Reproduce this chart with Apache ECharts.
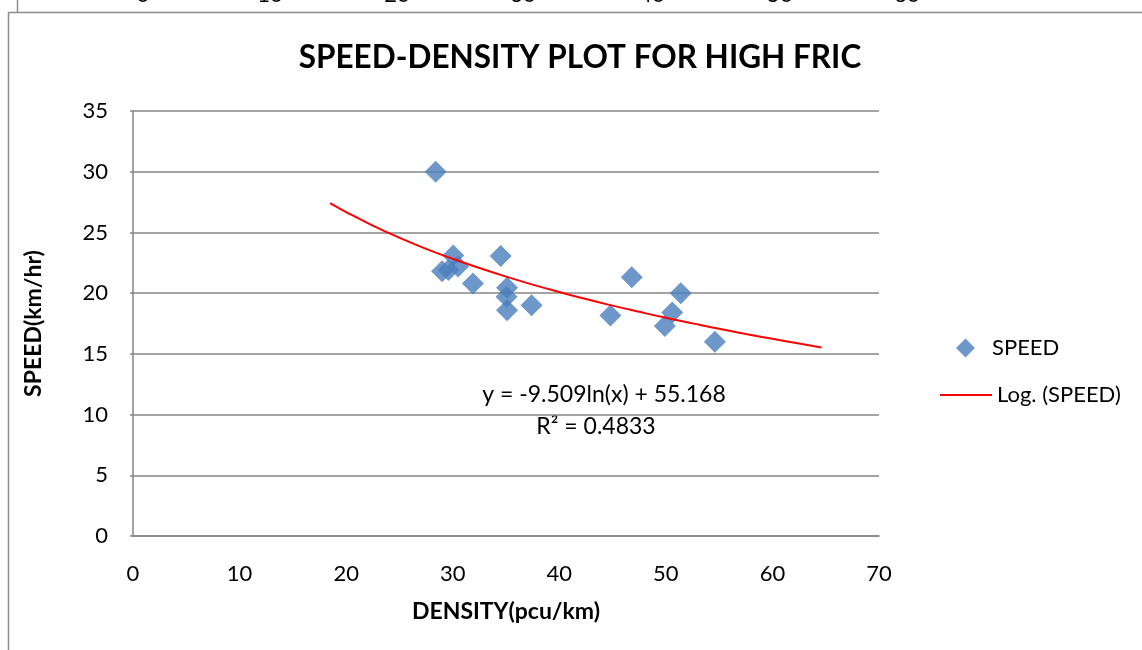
<!DOCTYPE html>
<html><head><meta charset="utf-8">
<script src="https://cdn.jsdelivr.net/npm/echarts@6/dist/echarts.min.js"></script>
<style>html,body{margin:0;padding:0;background:#fff}#c{width:1142px;height:650px}</style>
</head><body><div id="c"></div>
<script>
const FONT = 'Lato, "Open Sans", sans-serif';
const densityValues = [28.4, 30.05, 29.0, 29.6, 30.5, 31.9, 34.5, 35.1, 35.05, 35.1, 37.4, 44.8, 46.8, 51.4, 50.6, 49.9, 54.6];
const speedValues   = [30.0, 23.1, 21.8, 21.9, 22.2, 20.8, 23.06, 20.45, 19.7, 18.6, 19.0, 18.16, 21.3, 20.0, 18.4, 17.3, 16.0];
const trendX = [18.5, 20, 22.5, 25, 27.5, 30, 32.5, 35, 37.5, 40, 42.5, 45, 47.5, 50, 52.5, 55, 57.5, 60, 62.5, 64.6];
const trendY = [27.42, 26.68, 25.56, 24.56, 23.65, 22.83, 22.07, 21.36, 20.70, 20.09, 19.51, 18.97, 18.46, 17.97, 17.51, 17.06, 16.64, 16.24, 15.85, 15.53];
const prevChartTicks = ['0', '10', '20', '30', '40', '50', '60'];
const prevChartTickX = [143, 270, 397, 523, 652, 780, 907];
const equationText = 'y = -9.509ln(x) + 55.168';
const r2Text = 'R² = 0.4833';

const chart = echarts.init(document.getElementById('c'));
const graphics = [
  {type:'line', shape:{x1:8,y1:12.5,x2:1142,y2:12.5}, style:{stroke:'#8c8c8c', lineWidth:1.5}},
  {type:'line', shape:{x1:8.5,y1:12,x2:8.5,y2:650}, style:{stroke:'#8c8c8c', lineWidth:1.5}},
  {type:'line', shape:{x1:17.5,y1:0,x2:17.5,y2:12}, style:{stroke:'#8c8c8c', lineWidth:1.5}},
  {type:'text', x:604, y:395, style:{text:equationText, font:'23px '+FONT, fill:'#000', align:'center', verticalAlign:'middle'}},
  {type:'text', x:596, y:427, style:{text:r2Text, font:'23px '+FONT, fill:'#000', align:'center', verticalAlign:'middle'}}
];
prevChartTicks.forEach((t,i)=>{
  graphics.push({type:'text', x:prevChartTickX[i], y:6, style:{text:t, font:'22px '+FONT, fill:'#000', align:'center', verticalAlign:'bottom'}});
});

chart.setOption({
  animation:false,
  backgroundColor:'#fff',
  title:{text:'SPEED-DENSITY PLOT FOR HIGH FRIC', left:575, top:37, textAlign:'center',
    textStyle:{fontFamily:FONT, fontWeight:'bold', fontSize:31.5, color:'#000'}},
  grid:{left:133, right:263, top:111, bottom:114},
  legend:[
    {orient:'vertical', left:951, top:332, itemWidth:19, itemHeight:19,
      textStyle:{fontFamily:FONT, fontSize:22, color:'#000', padding:[0,0,0,12]},
      data:[{name:'SPEED', icon:'diamond', itemStyle:{color:'#4a7ebb'}}]},
    {orient:'vertical', left:935, top:379, itemWidth:52, itemHeight:2,
      textStyle:{fontFamily:FONT, fontSize:22, color:'#000'},
      data:[{name:'Log. (SPEED)', icon:'rect', itemStyle:{color:'#ff0000'}}]}
  ],
  xAxis:{type:'value', min:0, max:70, interval:10,
    name:'DENSITY(pcu/km)', nameLocation:'middle', nameGap:64,
    nameTextStyle:{fontFamily:FONT, fontWeight:'bold', fontSize:23, color:'#000'},
    axisLine:{show:true, lineStyle:{color:'#868686', width:1.5}},
    axisTick:{show:false}, splitLine:{show:false},
    axisLabel:{fontFamily:FONT, fontSize:22, color:'#000', margin:27}},
  yAxis:{type:'value', min:0, max:35, interval:5,
    name:'SPEED(km/hr)', nameLocation:'middle', nameGap:88, nameRotate:90,
    nameTextStyle:{fontFamily:FONT, fontWeight:'bold', fontSize:23, color:'#000'},
    axisLine:{show:true, lineStyle:{color:'#868686', width:1.5}},
    axisTick:{show:true, length:3, lineStyle:{color:'#868686', width:1.5}},
    splitLine:{show:true, lineStyle:{color:'#868686', width:1.5}},
    axisLabel:{fontFamily:FONT, fontSize:22, color:'#000', margin:25}},
  series:[
    {name:'SPEED', type:'scatter', symbol:'diamond', symbolSize:22,
      itemStyle:{color:'#4a7ebb'}, data:densityValues.map((d,i)=>[d, speedValues[i]]), z:3},
    {name:'Log. (SPEED)', type:'line', smooth:true, showSymbol:false, symbol:'none',
      lineStyle:{color:'#ff0000', width:2}, itemStyle:{color:'#ff0000'},
      data:trendX.map((x,i)=>[x, trendY[i]]), z:4}
  ],
  graphic:graphics
});
</script></body></html>
